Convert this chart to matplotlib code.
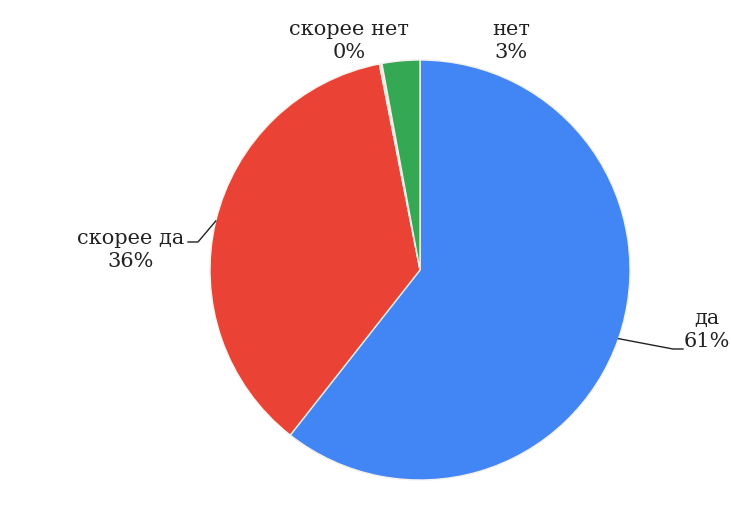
import numpy as np
import matplotlib.pyplot as plt

# survey answers, shares in percent
answers = ["да", "скорее да", "скорее нет", "нет"]
shares = [60.6, 36.3, 0.2, 2.9]
colors = ["#4285F4", "#EA4335", "#f6e7dc", "#34A853"]

plt.rcParams['font.family'] = ['DejaVu Serif']

fig = plt.figure(figsize=(7.31, 5.18), dpi=100)
ax = fig.add_axes([0, 0, 1, 1])

cx, cy, r = 420, 248, 210
wedges, _ = ax.pie(shares, colors=colors, startangle=90, counterclock=False,
                   center=(cx, cy), radius=r, frame=True,
                   wedgeprops=dict(edgecolor='#f4f0ea', linewidth=1.0))
ax.set_xlim(0, 731)
ax.set_ylim(0, 518)
ax.axis('off')


def edge_point(w):
    mid = np.deg2rad((w.theta1 + w.theta2) / 2)
    return cx + r * np.cos(mid), cy + r * np.sin(mid)


labels = [f"{a}\n{round(s):d}%" for a, s in zip(answers, shares)]
fs = 15
txt = dict(ha='center', va='center', fontsize=fs, linespacing=1.25, color='#222222')

# да: leader to the right
x0, y0 = edge_point(wedges[0])
ax.plot([x0, 673, 683], [y0, 169, 169], color='#222222', lw=1)
ax.text(707, 188, labels[0], **txt)

# скорее да: leader to the left
x1, y1 = edge_point(wedges[1])
ax.plot([x1, 198, 188], [y1, 276, 276], color='#222222', lw=1)
ax.text(131, 268, labels[1], **txt)

# small slices at the top, labels only
ax.text(349, 477, labels[2], **txt)
ax.text(511, 477, labels[3], **txt)

fig.savefig("out.png", dpi=100, facecolor='white')
